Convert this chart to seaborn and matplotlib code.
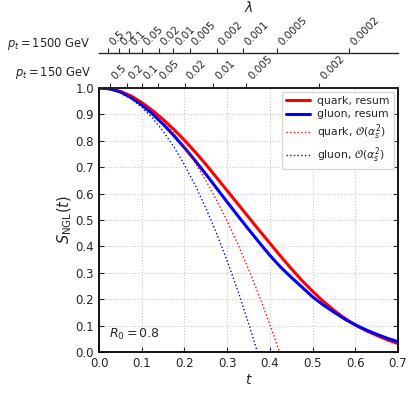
import numpy as np
import pandas as pd
import matplotlib
matplotlib.use("Agg")
import matplotlib.pyplot as plt
import seaborn as sns

# ---- data ----
t_grid = [0.000, 0.025, 0.050, 0.075, 0.100, 0.125, 0.150, 0.175, 0.200, 0.225,
          0.250, 0.275, 0.300, 0.325, 0.350, 0.375, 0.400, 0.425, 0.450, 0.475,
          0.500, 0.525, 0.550, 0.575, 0.600, 0.625, 0.650, 0.675, 0.700]
quark_resum = [1.000, 0.997, 0.987, 0.970, 0.945, 0.915, 0.881, 0.843, 0.802, 0.758,
               0.711, 0.661, 0.611, 0.561, 0.511, 0.461, 0.412, 0.363, 0.316, 0.271,
               0.230, 0.192, 0.158, 0.128, 0.102, 0.081, 0.063, 0.046, 0.032]
gluon_resum = [1.000, 0.997, 0.985, 0.964, 0.936, 0.902, 0.863, 0.820, 0.774, 0.725,
               0.674, 0.621, 0.568, 0.516, 0.465, 0.415, 0.366, 0.322, 0.283, 0.246,
               0.209, 0.178, 0.151, 0.125, 0.103, 0.084, 0.067, 0.052, 0.039]

t_fo_q = [0.000, 0.025, 0.050, 0.075, 0.100, 0.125, 0.150, 0.175, 0.200, 0.225,
          0.250, 0.275, 0.300, 0.325, 0.350, 0.375, 0.400, 0.425]
quark_fo = [1.000, 0.9965, 0.986, 0.9685, 0.944, 0.9125, 0.874, 0.8285, 0.776, 0.7165,
            0.650, 0.5765, 0.496, 0.4085, 0.314, 0.2125, 0.104, -0.0115]
t_fo_g = [0.000, 0.025, 0.050, 0.075, 0.100, 0.125, 0.150, 0.175, 0.200, 0.225,
          0.250, 0.275, 0.300, 0.325, 0.350, 0.375]
gluon_fo = [1.000, 0.9955, 0.9818, 0.9591, 0.9273, 0.8864, 0.8364, 0.7774, 0.7092, 0.6320,
            0.5456, 0.4502, 0.3457, 0.2321, 0.1094, -0.0223]

lam_150_labels = ["0.5", "0.2", "0.1", "0.05", "0.02", "0.01", "0.005", "0.002"]
lam_150_t = [0.026, 0.065, 0.101, 0.138, 0.201, 0.268, 0.345, 0.514]
lam_1500_labels = ["0.5", "0.2", "0.1", "0.05", "0.02", "0.01", "0.005", "0.002",
                   "0.001", "0.0005", "0.0002"]
lam_1500_t = [0.021, 0.046, 0.070, 0.101, 0.140, 0.174, 0.213, 0.276, 0.337, 0.417, 0.585]

x_ticks = [0.0, 0.1, 0.2, 0.3, 0.4, 0.5, 0.6, 0.7]
y_ticks = [0.0, 0.1, 0.2, 0.3, 0.4, 0.5, 0.6, 0.7, 0.8, 0.9, 1.0]

# ---- plotting ----
sns.set_style("ticks")
plt.rcParams["font.family"] = ["DejaVu Sans"]
plt.rcParams["mathtext.fontset"] = "dejavusans"

fig = plt.figure(figsize=(4.15, 3.93), dpi=100)
ax = fig.add_axes([0.2386, 0.1043, 0.7205, 0.6718])

df_res = pd.DataFrame({"t": t_grid, "q": quark_resum, "g": gluon_resum})
df_fq = pd.DataFrame({"t": t_fo_q, "v": quark_fo})
df_fg = pd.DataFrame({"t": t_fo_g, "v": gluon_fo})

sns.lineplot(data=df_res, x="t", y="q", color="#ff0000", lw=2.2, ax=ax, label="quark, resum")
sns.lineplot(data=df_res, x="t", y="g", color="#0000ff", lw=2.2, ax=ax, label="gluon, resum")
sns.lineplot(data=df_fq, x="t", y="v", color="#ff0000", lw=1.0, ls=":", ax=ax,
             label=r"quark, $\mathcal{O}(\alpha_s^2)$")
sns.lineplot(data=df_fg, x="t", y="v", color="#0000ff", lw=1.0, ls=":", ax=ax,
             label=r"gluon, $\mathcal{O}(\alpha_s^2)$")

ax.set_xlim(0, 0.7)
ax.set_ylim(0, 1.0)
ax.set_xticks(x_ticks)
ax.set_yticks(y_ticks)
ax.set_xticklabels([f"{v:.1f}" for v in x_ticks], fontsize=8.5)
ax.set_yticklabels([f"{v:.1f}" for v in y_ticks], fontsize=8.5)
ax.tick_params(direction="in", length=3.5, width=0.8, right=True, top=False)
ax.grid(True, ls=":", color="#c8c8c8", lw=0.8)
for s in ax.spines.values():
    s.set_linewidth(1.3)
    s.set_color("black")
ax.set_xlabel("$t$", fontsize=10, labelpad=2)
ax.set_ylabel(r"$S_{\rm NGL}(t)$", fontsize=10.5, labelpad=1)
ax.text(0.035, 0.055, "$R_0 = 0.8$", transform=ax.transAxes, fontsize=9)

leg = ax.legend(loc="upper right", fontsize=7.8, frameon=True, handlelength=2.2,
                handletextpad=0.7, borderpad=0.4, labelspacing=0.3,
                borderaxespad=0.35, fancybox=True)
leg.get_frame().set_edgecolor("#cccccc")

# lower lambda axis (pt = 150 GeV)
ax2 = ax.twiny()
ax2.set_xlim(ax.get_xlim())
ax2.set_xticks(lam_150_t)
ax2.set_xticklabels(lam_150_labels, rotation=45, ha="left", fontsize=7.5)
ax2.tick_params(axis="x", direction="out", length=3.5, width=0.8, pad=1)
for k in ["left", "right", "bottom"]:
    ax2.spines[k].set_visible(False)
ax2.spines["top"].set_linewidth(1.3)

# upper lambda axis (pt = 1500 GeV)
ax3 = ax.twiny()
ax3.set_xlim(ax.get_xlim())
ax3.spines["top"].set_position(("outward", 25))
ax3.set_xticks(lam_1500_t)
ax3.set_xticklabels(lam_1500_labels, rotation=45, ha="left", fontsize=7.5)
ax3.tick_params(axis="x", direction="out", length=3.5, width=0.8, pad=1)
for k in ["left", "right", "bottom"]:
    ax3.spines[k].set_visible(False)
ax3.spines["top"].set_linewidth(1.0)
ax3.set_xlabel(r"$\lambda$", fontsize=10, labelpad=2)

fig.text(0.218, 1 - 44 / 393, "$p_t = 1500$ GeV", ha="right", va="center", fontsize=8.3)
fig.text(0.220, 1 - 73 / 393, "$p_t = 150$ GeV", ha="right", va="center", fontsize=8.3)

fig.savefig("out.png", dpi=100)
